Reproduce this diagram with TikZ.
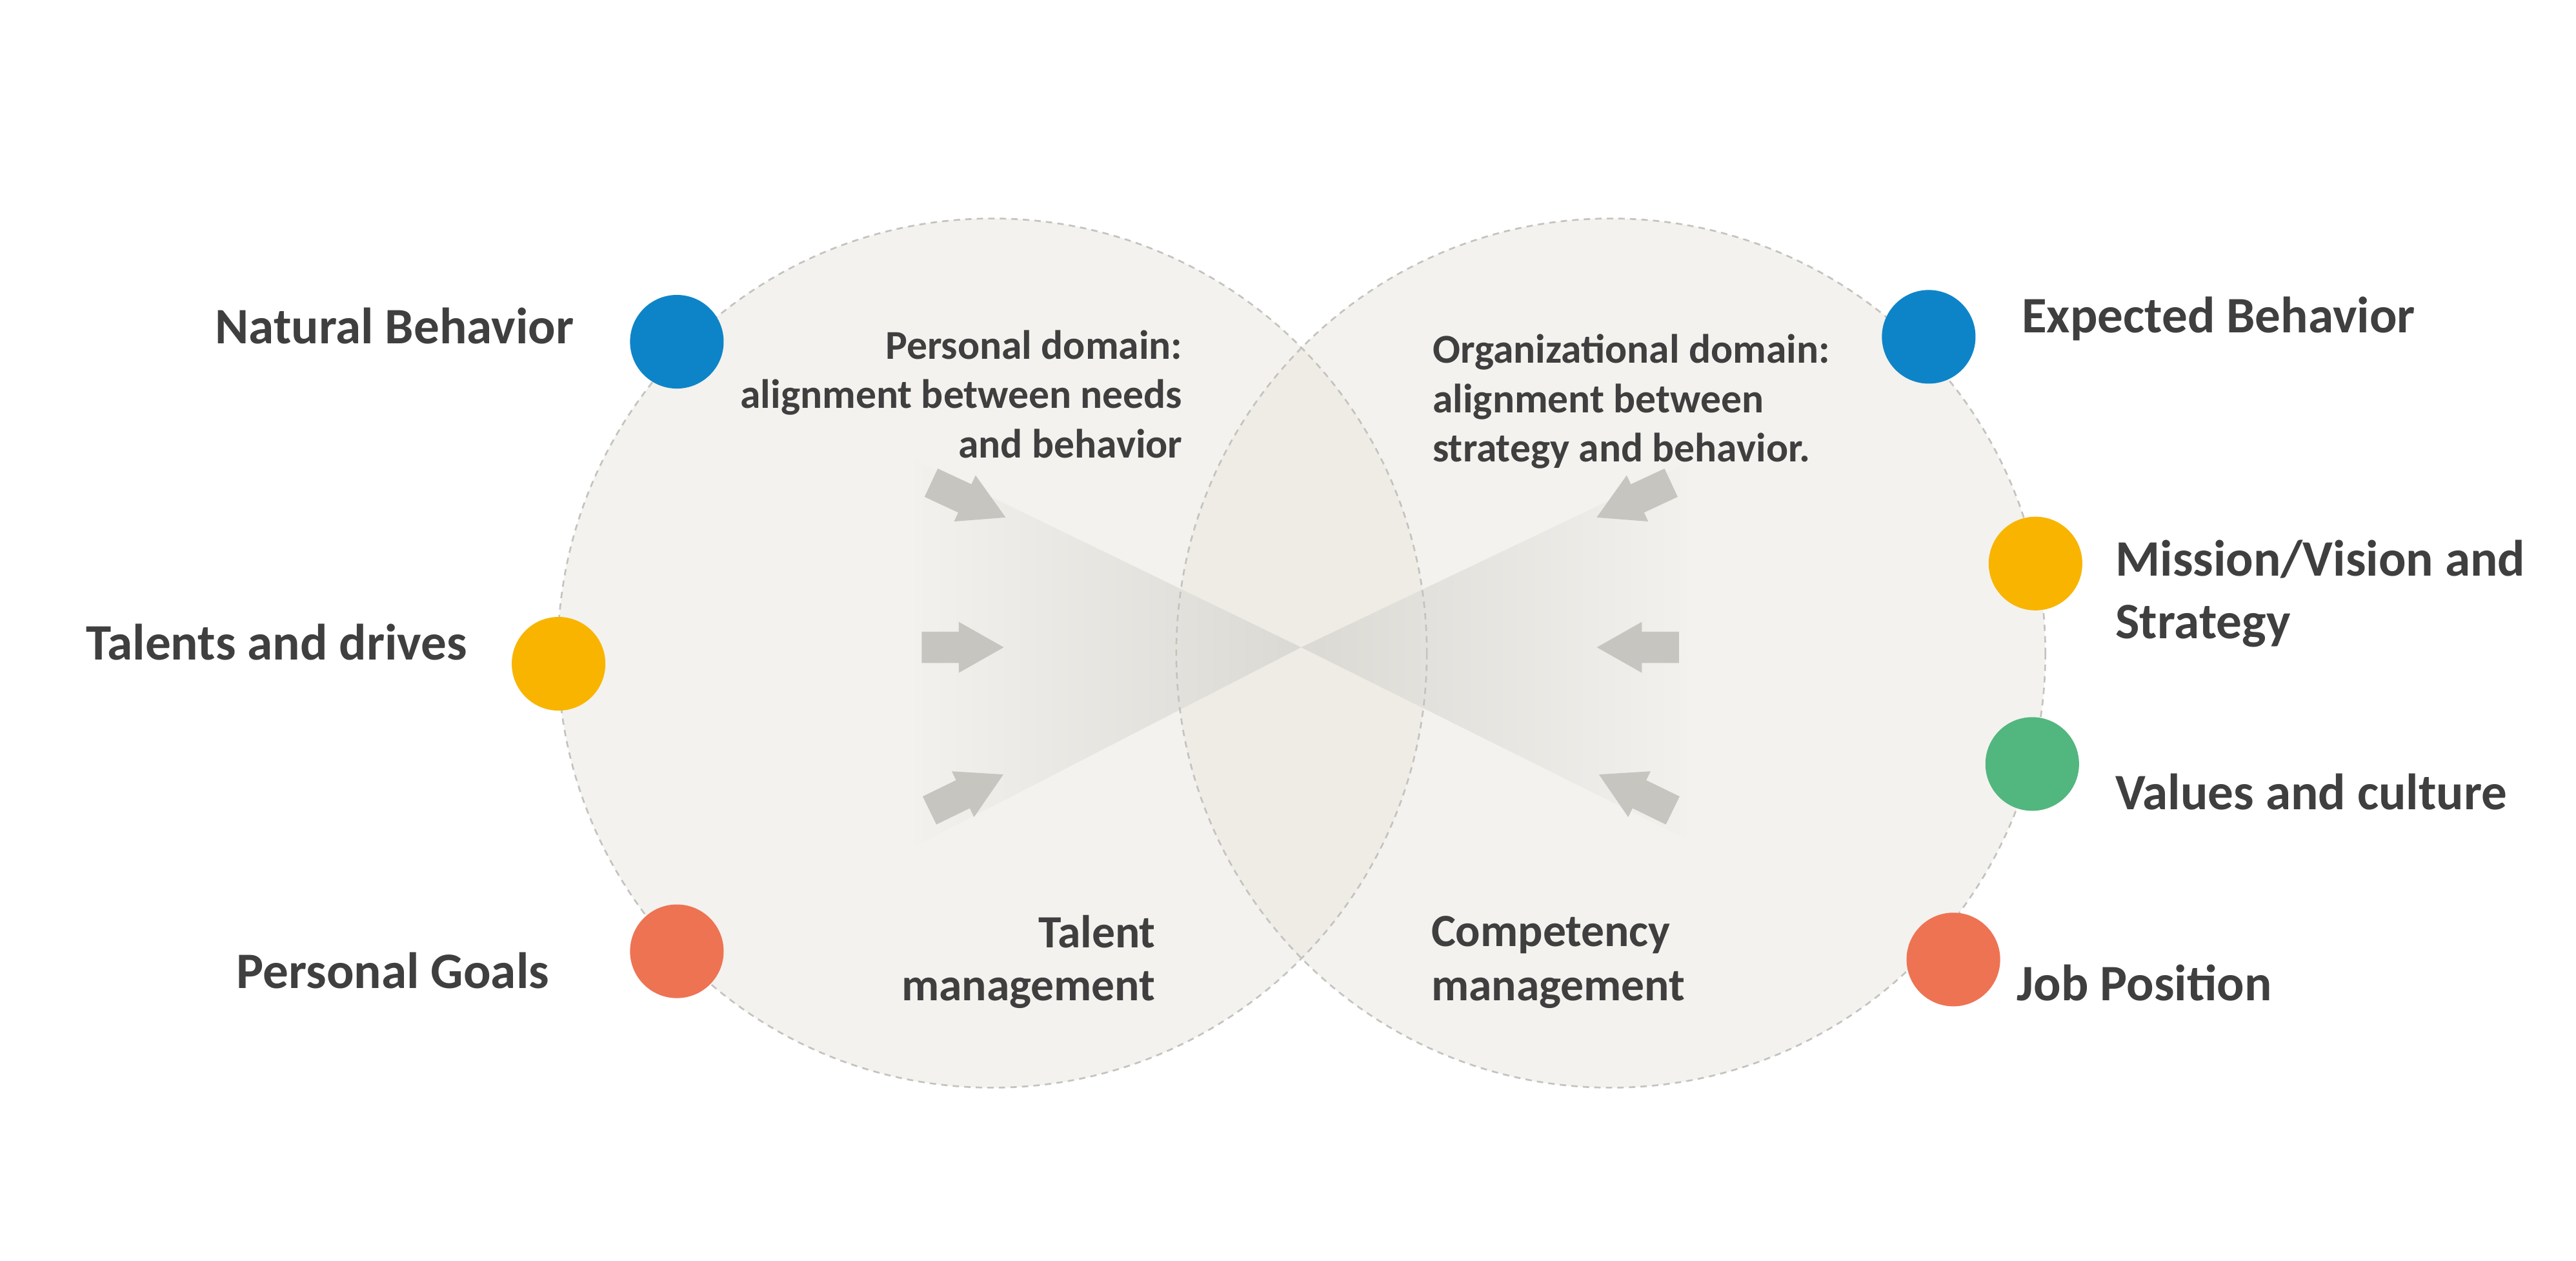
\documentclass[tikz,border=0pt]{standalone}
\usepackage{fontspec}
\setmainfont{Carlito}
\definecolor{circfill}{HTML}{F3F2EE}
\definecolor{lensfill}{HTML}{EFECE5}
\definecolor{outlinegray}{HTML}{C4C3BF}
\definecolor{arrowgray}{HTML}{C6C5C0}
\definecolor{txt}{HTML}{3F3F3F}
\definecolor{dotblue}{HTML}{0E84C8}
\definecolor{dotyellow}{HTML}{F9B400}
\definecolor{dotgreen}{HTML}{52B67F}
\definecolor{dotred}{HTML}{EE7353}
\definecolor{shadeA}{HTML}{F2F1ED}
\definecolor{shadeB}{HTML}{DAD9D4}
\tikzset{
  bigtxt/.style={font=\fontsize{8.85}{10}\selectfont\bfseries, text=txt, inner sep=0pt},
  domtxt/.style={font=\fontsize{7.1}{8.5}\selectfont\bfseries, text=txt, inner sep=0pt},
  mgmttxt/.style={font=\fontsize{8.0}{9}\selectfont\bfseries, text=txt, inner sep=0pt},
  dotnode/.style={circle, inner sep=0pt, minimum size=5.7mm, draw=none},
  dashedrim/.style={draw=outlinegray, line width=0.3pt, dash pattern=on 1.1pt off 0.9pt},
  garrow/.pic={\fill[arrowgray] (0,-9.5) -- (22.6,-9.5) -- (22.6,-15.5) -- (50,0) -- (22.6,15.5) -- (22.6,9.5) -- (0,9.5) -- cycle;}
}
\begin{document}
\begin{tikzpicture}[x=0.1mm,y=-0.1mm]
\path[use as bounding box, fill=white] (0,0) rectangle (1568,767.5);
\coordinate (cL) at (604,397.5);
\coordinate (cR) at (980.5,397.5);
\coordinate (apex) at (792,394);
% circles
\fill[circfill] (cL) circle (264.5);
\fill[circfill] (cR) circle (264.5);
\begin{scope}
  \clip (cL) circle (264.5);
  \fill[lensfill] (cR) circle (264.5);
\end{scope}
% bow-tie triangles
\shade[left color=shadeA, right color=shadeB] (557,280) -- (apex) -- (557,515) -- cycle;
\shade[left color=shadeB, right color=shadeA] (1027,282) -- (apex) -- (1027,511) -- cycle;
% dashed outlines
\draw[dashedrim] (cL) circle (264.5);
\draw[dashedrim] (cR) circle (264.5);
% arrows
\pic[rotate=-25] at (566.8,293.8) {garrow};
\pic at (561,394) {garrow};
\pic[rotate=26] at (565.8,493.3) {garrow};
\pic[rotate=205] at (1017.2,293.8) {garrow};
\pic[rotate=180] at (1022,394) {garrow};
\pic[rotate=154] at (1018.2,493.3) {garrow};
% dots
\node[dotnode, fill=dotblue] (dNB) at (412,208) {};
\node[dotnode, fill=dotyellow] (dTD) at (340,404) {};
\node[dotnode, fill=dotred] (dPG) at (412,579) {};
\node[dotnode, fill=dotblue] (dEB) at (1174,205) {};
\node[dotnode, fill=dotyellow] (dMV) at (1239,343) {};
\node[dotnode, fill=dotgreen] (dVC) at (1237,465) {};
\node[dotnode, fill=dotred] (dJP) at (1189,584) {};
% labels
\node[bigtxt, anchor=base east] (tNB) at (350,209) {Natural Behavior};
\node[bigtxt, anchor=base east] (tTD) at (285,401.5) {Talents and drives};
\node[bigtxt, anchor=base east] (tPG) at (335,601.5) {Personal Goals};
\node[bigtxt, anchor=base west] (tEB) at (1230,202.5) {Expected Behavior};
\node[bigtxt, anchor=base west] (tMV1) at (1287,350.7) {Mission/Vision and};
\node[bigtxt, anchor=base west] (tMV2) at (1287,388.5) {Strategy};
\node[bigtxt, anchor=base west] (tVC) at (1287,492.6) {Values and culture};
\node[bigtxt, anchor=base west] (tJP) at (1227,609) {Job Position};
% domain texts
\node[domtxt, anchor=base east] (pd1) at (720.4,218.6) {Personal domain:};
\node[domtxt, anchor=base east] (pd2) at (720.4,248.6) {alignment between needs};
\node[domtxt, anchor=base east] (pd3) at (720.4,278.6) {and behavior};
\node[domtxt, anchor=base west] (od1) at (871.4,221) {Organizational domain:};
\node[domtxt, anchor=base west] (od2) at (871.4,251) {alignment between};
\node[domtxt, anchor=base west] (od3) at (871.4,281) {strategy and behavior.};
% management texts
\node[mgmttxt, anchor=base east] (tm1) at (704,577) {Talent};
\node[mgmttxt, anchor=base east] (tm2) at (704,609) {management};
\node[mgmttxt, anchor=base west] (cm1) at (870.5,576) {Competency};
\node[mgmttxt, anchor=base west] (cm2) at (870.5,609) {management};
\end{tikzpicture}
\end{document}
